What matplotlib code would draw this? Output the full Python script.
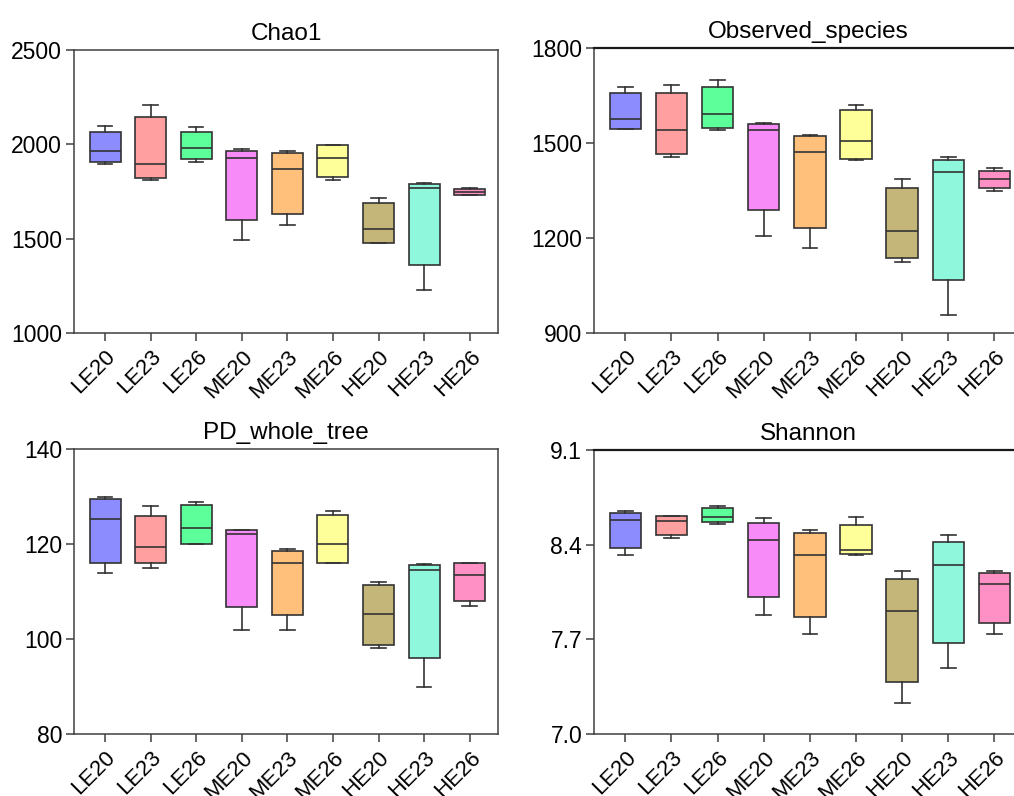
import matplotlib
matplotlib.use("Agg")
import matplotlib.pyplot as plt

plt.rcParams['font.family'] = ['Liberation Sans', 'DejaVu Sans']

groups = ['LE20', 'LE23', 'LE26', 'ME20', 'ME23', 'ME26', 'HE20', 'HE23', 'HE26']
colors = ['#8c8cff', '#ff9f9f', '#5cff9a', '#f78bf7', '#ffc07c',
          '#ffff99', '#c4b579', '#8ff7dc', '#ff90c6']

# (whisker low, q1, median, q3, whisker high) per group
chao1 = [
    (1895, 1909, 1967, 2068, 2098),
    (1812, 1819, 1895, 2145, 2209),
    (1909, 1921, 1979, 2068, 2094),
    (1494, 1598, 1926, 1967, 1976),
    (1570, 1632, 1868, 1956, 1967),
    (1812, 1828, 1926, 1995, 1999),
    (1476, 1478, 1550, 1690, 1713),
    (1229, 1358, 1766, 1792, 1797),
    (1729, 1734, 1748, 1762, 1769),
]
observed = [
    (1543, 1545, 1577, 1658, 1677),
    (1456, 1465, 1541, 1658, 1682),
    (1541, 1547, 1591, 1677, 1698),
    (1207, 1289, 1541, 1559, 1564),
    (1167, 1232, 1472, 1522, 1525),
    (1447, 1448, 1507, 1605, 1619),
    (1123, 1136, 1223, 1357, 1386),
    (957, 1066, 1409, 1447, 1457),
    (1348, 1359, 1386, 1412, 1421),
]
pd_tree = [
    (113.9, 116.1, 125.3, 129.5, 129.8),
    (114.9, 115.9, 119.4, 125.8, 127.9),
    (119.9, 119.9, 123.4, 128.3, 128.8),
    (101.9, 106.7, 122.0, 122.9, 122.9),
    (101.9, 105.0, 115.9, 118.6, 118.9),
    (115.9, 115.9, 119.9, 126.1, 126.9),
    (98.0, 98.7, 105.3, 111.4, 111.9),
    (90.0, 95.9, 114.5, 115.6, 115.8),
    (106.9, 107.9, 113.5, 115.9, 115.9),
]
shannon = [
    (8.322, 8.379, 8.581, 8.635, 8.649),
    (8.450, 8.472, 8.573, 8.610, 8.612),
    (8.556, 8.566, 8.608, 8.669, 8.686),
    (7.879, 8.012, 8.433, 8.558, 8.600),
    (7.739, 7.862, 8.322, 8.487, 8.509),
    (8.324, 8.329, 8.364, 8.546, 8.608),
    (7.229, 7.382, 7.908, 8.145, 8.206),
    (7.487, 7.670, 8.246, 8.418, 8.470),
    (7.739, 7.822, 8.108, 8.192, 8.206),
]

panels = [
    ('Chao1', chao1, [1000, 1500, 2000, 2500], '{:.0f}'),
    ('Observed_species', observed, [900, 1200, 1500, 1800], '{:.0f}'),
    ('PD_whole_tree', pd_tree, [80, 100, 120, 140], '{:.0f}'),
    ('Shannon', shannon, [7.0, 7.7, 8.4, 9.1], '{:.1f}'),
]

W, H = 1014, 796
fig = plt.figure(figsize=(W / 100, H / 100), dpi=100)

# axes boxes in pixels: left, top, right, bottom (right column runs off the page)
boxes = [(74, 50, 498, 333), (594, 48, 1023, 333),
         (74, 449, 498, 734), (594, 450, 1023, 734)]
edge = '#333333'

for i, ((title, data, yt, fmt), (l, t, r, b)) in enumerate(zip(panels, boxes)):
    ax = fig.add_axes([l / W, 1 - b / H, (r - l) / W, (b - t) / H])
    stats = [dict(whislo=d[0], q1=d[1], med=d[2], q3=d[3], whishi=d[4])
             for d in data]
    art = ax.bxp(stats, positions=range(len(groups)), widths=0.68,
                 capwidths=0.32, showfliers=False, patch_artist=True,
                 boxprops=dict(edgecolor=edge, linewidth=1.2),
                 medianprops=dict(color=edge, linewidth=1.2),
                 whiskerprops=dict(color=edge, linewidth=1.2),
                 capprops=dict(color=edge, linewidth=1.2))
    for patch, c in zip(art['boxes'], colors):
        patch.set_facecolor(c)
    ax.set_xlim(-0.68, 8.62)
    ax.set_ylim(yt[0], yt[-1])
    ax.set_yticks(yt)
    ax.set_yticklabels([fmt.format(v) for v in yt])
    ax.set_xticks(range(len(groups)))
    ax.set_xticklabels(groups, rotation=45, ha='right', va='top',
                       rotation_mode='anchor')
    ax.tick_params(axis='both', direction='out', length=5.5, width=1.1,
                   color='#404040')
    ax.tick_params(axis='x', labelsize=16, pad=4)
    ax.tick_params(axis='y', labelsize=16.5, pad=3)
    for s in ax.spines.values():
        s.set_color('#404040')
        s.set_linewidth(1.1)
    if i % 2 == 1:
        ax.spines['top'].set_color('#1a1a1a')
        ax.spines['top'].set_linewidth(1.6)
    ax.set_title(title, fontsize=17.5, pad=7)

fig.savefig('out.png', dpi=100)
